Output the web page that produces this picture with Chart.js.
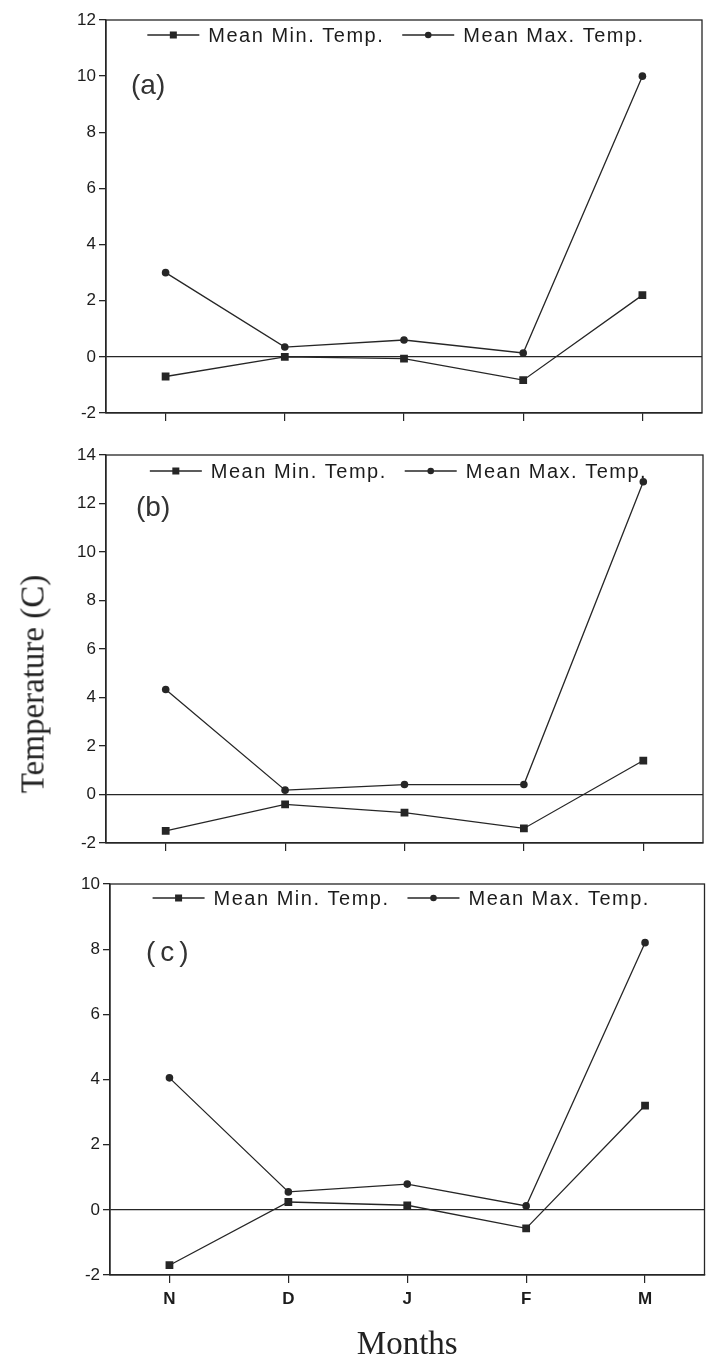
<!DOCTYPE html>
<html>
<head>
<meta charset="utf-8">
<script src="https://cdn.jsdelivr.net/npm/chart.js@4.4.1/dist/chart.umd.min.js"></script>
<style>
  body { margin: 0; background: #fff; width: 710px; height: 1367px; position: relative; overflow: hidden; }
  canvas { position: absolute; left: 0; }
  #ylabel {
    position: absolute; left: 33px; top: 684px;
    transform: translate(-50%, -50%) rotate(-90deg);
    font-family: "Liberation Serif", serif; font-size: 33px; color: #222; white-space: nowrap;
  }
</style>
</head>
<body>
<canvas id="chartA" width="710" height="440" style="top:0px"></canvas>
<canvas id="chartB" width="710" height="420" style="top:440px"></canvas>
<canvas id="chartC" width="710" height="507" style="top:860px"></canvas>
<div id="ylabel">Temperature (C)</div>

<script>
// DATA
const months = ["N", "D", "J", "F", "M"];
const seriesNames = ["Mean Min. Temp.", "Mean Max. Temp."];

const minTempA = [-0.7, 0.0, -0.06, -0.83, 2.2];
const maxTempA = [3.0, 0.35, 0.6, 0.14, 10.0];

const minTempB = [-1.5, -0.41, -0.75, -1.4, 1.4];
const maxTempB = [4.33, 0.18, 0.41, 0.41, 12.9];

const minTempC = [-1.7, 0.24, 0.14, -0.57, 3.2];
const maxTempC = [4.05, 0.55, 0.79, 0.12, 8.2];

const yTicksA = { min: -2, max: 12, step: 2 };
const yTicksB = { min: -2, max: 14, step: 2 };
const yTicksC = { min: -2, max: 10, step: 2 };

const INK = "#262626";
const TEXT = "#1c1c1c";
const SANS = "'Liberation Sans', Arial, sans-serif";

// frame around the plot, the panel letter and the legend drawn inside the box
const panelDecor = {
    id: "panelDecor",
    beforeDatasetsDraw(chart, args, opts) {
        const { ctx, chartArea } = chart;
        ctx.save();
        ctx.strokeStyle = INK;
        ctx.lineWidth = 1.3;
        ctx.strokeRect(chartArea.left, chartArea.top, chartArea.right - chartArea.left, chartArea.bottom - chartArea.top);
        ctx.restore();
    },
    afterDatasetsDraw(chart, args, opts) {
        const { ctx, chartArea } = chart;
        ctx.save();

        // panel letter
        ctx.fillStyle = "#333";
        ctx.font = "28px " + SANS;
        ctx.textBaseline = "middle";
        ctx.letterSpacing = opts.letterSpacing || "0px";
        ctx.fillText(opts.letter, chartArea.left + opts.letterX, chartArea.top + opts.letterY);

        // legend: line with marker, then label
        ctx.font = "20px " + SANS;
        ctx.letterSpacing = "1.5px";
        const lineLen = 52, gapText = 9, gapItem = 18;
        const items = chart.data.datasets.map(ds => ({ ds, w: lineLen + gapText + ctx.measureText(ds.label).width }));
        const total = items.reduce((s, it) => s + it.w, 0) + gapItem * (items.length - 1);
        let x = (chartArea.left + chartArea.right) / 2 - total / 2 + opts.legendShift;
        const y = chartArea.top + opts.legendY;
        items.forEach(it => {
            ctx.strokeStyle = INK;
            ctx.lineWidth = 1.3;
            ctx.beginPath();
            ctx.moveTo(x, y);
            ctx.lineTo(x + lineLen, y);
            ctx.stroke();
            ctx.fillStyle = INK;
            if (it.ds.pointStyle === "rect") {
                ctx.fillRect(x + lineLen / 2 - 3.5, y - 3.5, 7, 7);
            } else {
                ctx.beginPath();
                ctx.arc(x + lineLen / 2, y, 3.3, 0, Math.PI * 2);
                ctx.fill();
            }
            ctx.fillStyle = TEXT;
            ctx.fillText(it.ds.label, x + lineLen + gapText, y + 1);
            x += it.w + gapItem;
        });
        ctx.restore();
    }
};

function makePanel(canvasId, minData, maxData, yTicks, cfg) {
    const datasets = [
        {
            label: seriesNames[0],
            data: minData,
            borderColor: INK,
            backgroundColor: INK,
            borderWidth: 1.3,
            pointStyle: "rect",
            pointRadius: 5.5,
            pointBorderWidth: 0
        },
        {
            label: seriesNames[1],
            data: maxData,
            borderColor: INK,
            backgroundColor: INK,
            borderWidth: 1.3,
            pointStyle: "circle",
            pointRadius: 3.8,
            pointBorderWidth: 0
        }
    ];

    const config = {
        type: "line",
        data: { labels: months, datasets },
        plugins: [panelDecor],
        options: {
            responsive: false,
            animation: false,
            layout: { padding: { top: cfg.padTop, right: cfg.padRight, left: 0, bottom: 0 } },
            plugins: {
                legend: { display: false },
                tooltip: { enabled: false },
                panelDecor: cfg.decor
            },
            scales: {
                x: {
                    offset: true,
                    grid: { drawOnChartArea: false, drawTicks: true, tickLength: 8, color: INK, tickColor: INK, lineWidth: 1.2 },
                    border: { display: true, color: INK, width: 1.3 },
                    ticks: {
                        display: cfg.showMonths,
                        color: TEXT,
                        padding: 6,
                        font: { family: SANS, size: 17, weight: "bold" }
                    },
                    title: {
                        display: cfg.showMonths,
                        text: "Months",
                        color: "#222",
                        font: { family: "'Liberation Serif', serif", size: 33 },
                        padding: { top: 0, bottom: 2 }
                    },
                    afterFit(scale) { scale.height = cfg.xHeight; }
                },
                y: {
                    min: yTicks.min,
                    max: yTicks.max,
                    grid: {
                        drawOnChartArea: true,
                        drawTicks: true,
                        tickLength: 7,
                        lineWidth: 1.3,
                        color: c => (c.tick && c.tick.value === 0 ? INK : "rgba(0,0,0,0)"),
                        tickColor: INK
                    },
                    border: { display: true, color: INK, width: 1.3 },
                    ticks: {
                        stepSize: yTicks.step,
                        color: TEXT,
                        padding: 3,
                        font: { family: SANS, size: 17 }
                    },
                    afterFit(scale) { scale.width = cfg.yWidth; }
                }
            }
        }
    };
    return new Chart(document.getElementById(canvasId), config);
}

makePanel("chartA", minTempA, maxTempA, yTicksA, {
    padTop: 20, padRight: 8, xHeight: 27, yWidth: 106, showMonths: false,
    decor: { letter: "(a)", letterX: 25, letterY: 66, legendY: 15, legendShift: -8 }
});
makePanel("chartB", minTempB, maxTempB, yTicksB, {
    padTop: 15, padRight: 7, xHeight: 17, yWidth: 106, showMonths: false,
    decor: { letter: "(b)", letterX: 30, letterY: 53, legendY: 16, legendShift: -6 }
});
makePanel("chartC", minTempC, maxTempC, yTicksC, {
    padTop: 24, padRight: 1, xHeight: 92, yWidth: 110, showMonths: true,
    decor: { letter: "(c)", letterX: 36, letterY: 69, letterSpacing: "5px", legendY: 14, legendShift: -6 }
});
</script>
</body>
</html>
